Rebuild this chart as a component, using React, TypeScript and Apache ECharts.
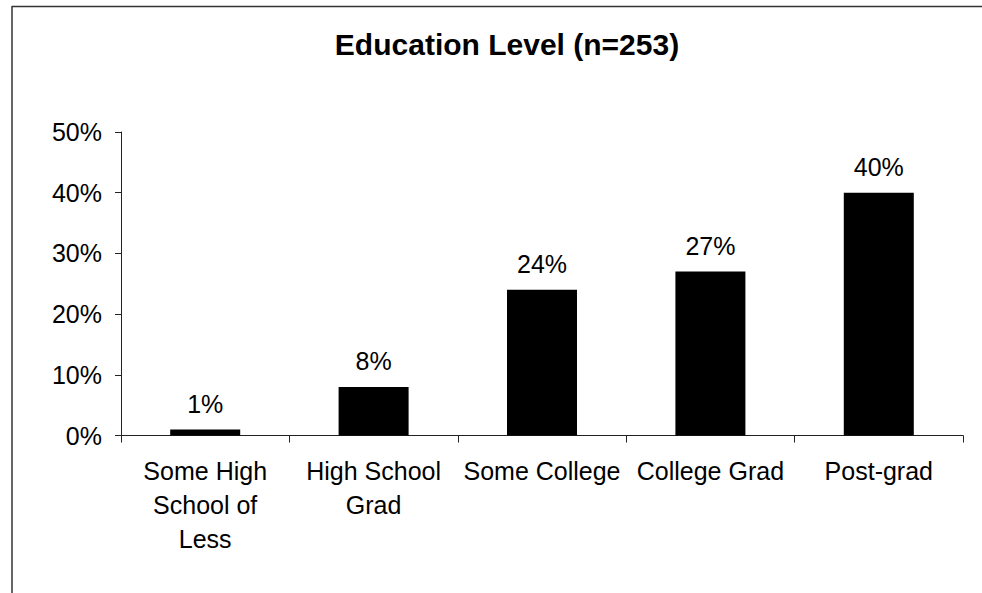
import React, { useEffect, useRef } from "react";
import * as echarts from "echarts";

// Education level breakdown of respondents (percent)
const categories: string[] = [
  "Some High\nSchool of\nLess",
  "High School\nGrad",
  "Some College",
  "College Grad",
  "Post-grad",
];
const shares: number[] = [1, 8, 24, 27, 40];
const titleText = "Education Level (n=253)";

const FONT = "'Liberation Sans', Arial, sans-serif";

export default function App() {
  const ref = useRef<HTMLDivElement>(null);

  useEffect(() => {
    if (!ref.current) return;
    const chart = echarts.init(ref.current, null, { renderer: "svg" });
    chart.setOption({
      animation: false,
      backgroundColor: "#ffffff",
      textStyle: { fontFamily: FONT },
      graphic: [
        {
          type: "line",
          shape: { x1: 12, y1: 6.5, x2: 982, y2: 6.5 },
          style: { stroke: "#333", lineWidth: 1.5 },
        },
        {
          type: "line",
          shape: { x1: 12, y1: 6, x2: 12, y2: 593 },
          style: { stroke: "#333", lineWidth: 1.5 },
        },
        {
          type: "text",
          x: 507,
          y: 29,
          style: {
            text: titleText,
            fontFamily: FONT,
            fontSize: 30,
            fontWeight: "bold",
            fill: "#000",
            textAlign: "center",
            textVerticalAlign: "top",
          },
        },
      ],
      grid: { left: 121, right: 19, top: 132, bottom: 157.5, containLabel: false },
      xAxis: {
        type: "category",
        data: categories,
        axisLine: { show: true, lineStyle: { color: "#222", width: 1 } },
        axisTick: { show: true, length: 7, lineStyle: { color: "#222" } },
        axisLabel: {
          interval: 0,
          margin: 18,
          color: "#000",
          fontFamily: FONT,
          fontSize: 25,
          lineHeight: 34,
          align: "center",
        },
      },
      yAxis: {
        type: "value",
        min: 0,
        max: 50,
        interval: 10,
        splitLine: { show: false },
        axisLine: { show: true, lineStyle: { color: "#222", width: 1 } },
        axisTick: { show: true, length: 6, lineStyle: { color: "#222" } },
        axisLabel: {
          formatter: "{value}%",
          margin: 19,
          color: "#000",
          fontFamily: FONT,
          fontSize: 25,
        },
      },
      series: [
        {
          type: "bar",
          data: shares,
          barWidth: 70,
          itemStyle: { color: "#000" },
          label: {
            show: true,
            position: "top",
            distance: 13,
            formatter: "{c}%",
            color: "#000",
            fontFamily: FONT,
            fontSize: 25,
          },
        },
      ],
    });
    return () => chart.dispose();
  }, []);

  return (
    <div
      ref={ref}
      style={{ position: "fixed", left: 0, top: 0, width: 982, height: 593 }}
    />
  );
}
